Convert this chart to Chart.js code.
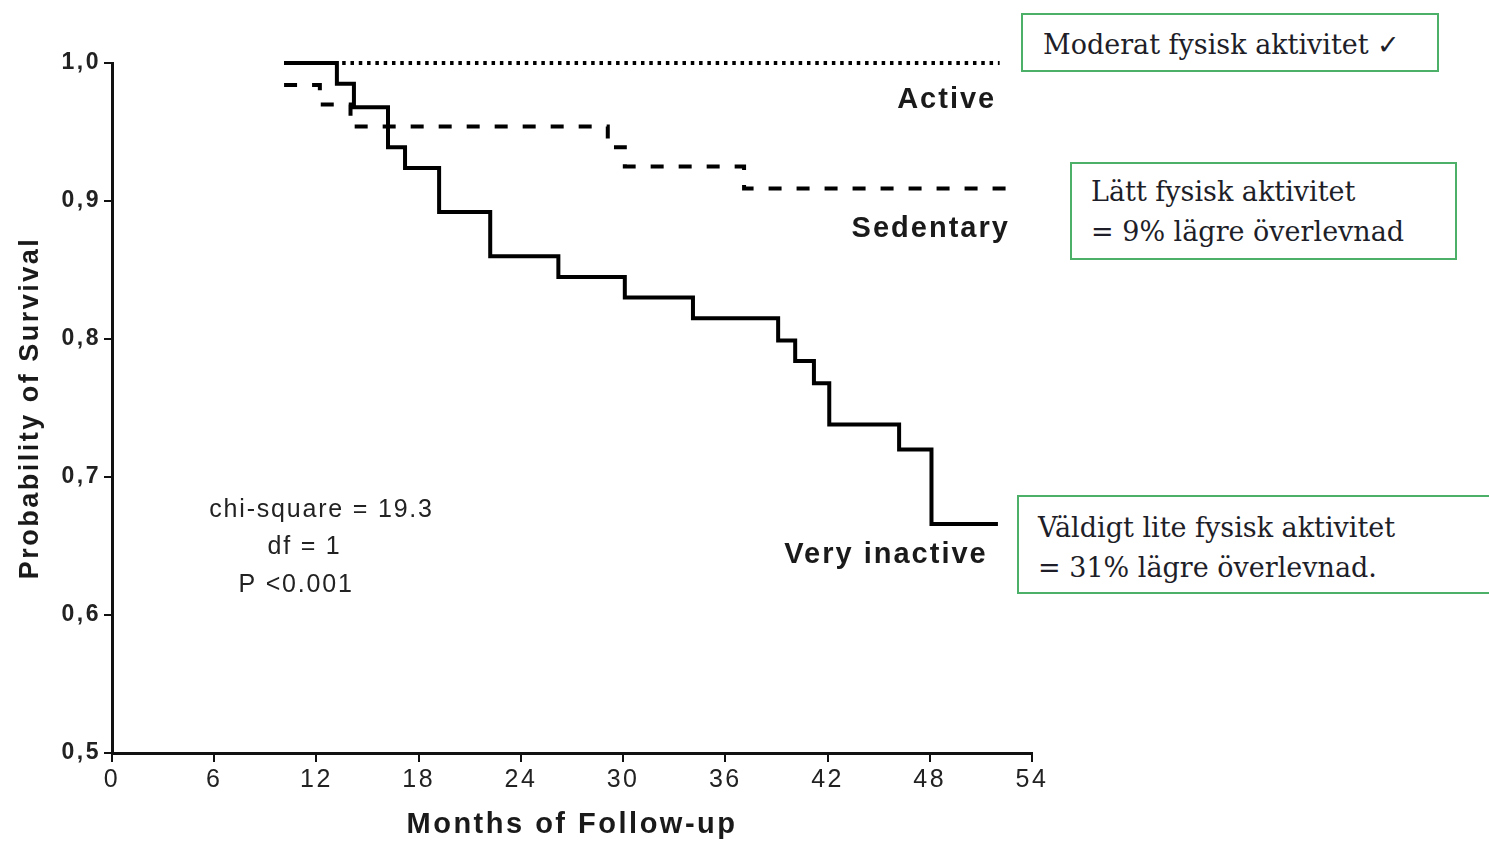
<!DOCTYPE html>
<html>
<head>
<meta charset="utf-8">
<script src="https://cdn.jsdelivr.net/npm/chart.js@4"></script>
<style>
  body { margin: 0; background: #fff; }
  #wrap { position: relative; width: 1489px; height: 842px; overflow: hidden; }
  #survivalChart { position: absolute; left: 0; top: 0; }
  .note {
    position: absolute;
    box-sizing: border-box;
    border: 2px solid #4cb069;
    background: #fff;
    font-family: "DejaVu Serif", serif;
    font-size: 27px;
    line-height: 40px;
    color: #1e1e28;
    white-space: nowrap;
  }
</style>
</head>
<body>
<div id="wrap">
  <canvas id="survivalChart" width="1489" height="842"></canvas>
  <div class="note" style="left:1021px; top:13px; width:418px; height:59px; padding:10px 0 0 20px;">Moderat fysisk aktivitet ✓</div>
  <div class="note" style="left:1070px; top:162px; width:387px; height:98px; padding:8px 0 0 19px;">Lätt fysisk aktivitet<br>= 9% lägre överlevnad</div>
  <div class="note" style="left:1017px; top:495px; width:490px; height:99px; padding:11px 0 0 19px;">Väldigt lite fysisk aktivitet<br>= 31% lägre överlevnad.</div>
</div>
<script>
// Kaplan-Meier steps: month of the drop, new survival level
const activeMonths = [10.1, 52.1];
const activeSurvival = [1.0, 1.0];

const sedentaryMonths = [10.1, 12.2, 14.0, 29.1, 30.1, 37.1, 53.0];
const sedentarySurvival = [0.984, 0.970, 0.954, 0.939, 0.925, 0.909, 0.909];

const inactiveMonths = [10.1, 13.2, 14.2, 16.2, 17.2, 19.2, 22.2, 26.2, 30.1, 34.1, 39.1, 40.1, 41.2, 42.1, 46.2, 48.1, 52.0];
const inactiveSurvival = [1.0, 0.985, 0.968, 0.939, 0.924, 0.892, 0.860, 0.845, 0.830, 0.815, 0.799, 0.784, 0.768, 0.738, 0.720, 0.666, 0.666];

// Axis ticks
const xTicks = [0, 6, 12, 18, 24, 30, 36, 42, 48, 54];
const yTicks = [0.5, 0.6, 0.7, 0.8, 0.9, 1.0];
const yTickLabels = ['0,5', '0,6', '0,7', '0,8', '0,9', '1,0'];

// Curve names placed next to the curves (right edge month, survival)
const curveNames = ['Active', 'Sedentary', 'Very inactive'];
const curveNameMonths = [51.9, 52.7, 51.4];
const curveNameSurvival = [0.973, 0.880, 0.6435];

// Test statistics (centre month, survival)
const statLines = ['chi-square = 19.3', 'df = 1', 'P <0.001'];
const statMonths = [12.3, 11.3, 10.8];
const statSurvival = [0.676, 0.649, 0.622];

const toPoints = (xs, ys) => xs.map((x, i) => ({ x, y: ys[i] }));

// The scanned axes text is spread out a little, so widen letter spacing while drawing
const spacingPlugin = {
    id: 'spacing',
    beforeDraw(chart) {
        chart.ctx.letterSpacing = '2.5px';
    },
    afterDraw(chart) {
        chart.ctx.letterSpacing = '0px';
    }
};

// Draw curve names and statistics through the scales
const annotationPlugin = {
    id: 'annotations',
    afterDatasetsDraw(chart) {
        const { ctx, scales } = chart;
        const xs = scales.x;
        const ys = scales.y;
        ctx.save();
        ctx.fillStyle = '#1a1a1a';
        ctx.textBaseline = 'middle';

        ctx.font = 'bold 29px "Liberation Sans", Arial, sans-serif';
        ctx.letterSpacing = '2px';
        ctx.textAlign = 'right';
        curveNames.forEach((name, i) => {
            ctx.fillText(name, xs.getPixelForValue(curveNameMonths[i]), ys.getPixelForValue(curveNameSurvival[i]));
        });

        ctx.font = '25px "Liberation Sans", Arial, sans-serif';
        ctx.letterSpacing = '1.8px';
        ctx.fillStyle = '#222';
        ctx.textAlign = 'center';
        statLines.forEach((line, i) => {
            ctx.fillText(line, xs.getPixelForValue(statMonths[i]), ys.getPixelForValue(statSurvival[i]));
        });
        ctx.restore();
    }
};

const initChart = () => {
    const ctx = document.querySelector('#survivalChart');

    const config = {
        type: 'line',
        data: {
            datasets: [
                {
                    label: 'Active',
                    data: toPoints(activeMonths, activeSurvival),
                    borderColor: '#000',
                    borderWidth: 4,
                    borderDash: [3.5, 4.8],
                    stepped: 'before',
                    pointRadius: 0,
                    fill: false,
                    clip: false,
                    order: 3
                },
                {
                    label: 'Sedentary',
                    data: toPoints(sedentaryMonths, sedentarySurvival),
                    borderColor: '#000',
                    borderWidth: 4,
                    borderDash: [13, 15],
                    stepped: 'before',
                    pointRadius: 0,
                    fill: false,
                    clip: false,
                    order: 2
                },
                {
                    label: 'Very inactive',
                    data: toPoints(inactiveMonths, inactiveSurvival),
                    borderColor: '#000',
                    borderWidth: 4,
                    stepped: 'before',
                    pointRadius: 0,
                    fill: false,
                    clip: false,
                    order: 1
                }
            ]
        },
        options: {
            responsive: false,
            animation: false,
            layout: {
                padding: { top: 63, right: 457, left: 0, bottom: 0 }
            },
            plugins: {
                legend: { display: false },
                tooltip: { enabled: false }
            },
            scales: {
                x: {
                    type: 'linear',
                    min: 0,
                    max: 54,
                    afterFit: (scale) => { scale.height = 89; },
                    afterBuildTicks: (scale) => { scale.ticks = xTicks.map(v => ({ value: v })); },
                    border: { display: true, color: '#111', width: 3 },
                    grid: { display: true, drawOnChartArea: false, tickLength: 9, color: '#111', lineWidth: 2 },
                    ticks: {
                        padding: 3,
                        color: '#222',
                        font: { family: '"Liberation Sans", Arial, sans-serif', size: 25 },
                        maxRotation: 0
                    },
                    title: {
                        display: true,
                        text: 'Months of Follow-up',
                        color: '#1a1a1a',
                        font: { family: '"Liberation Sans", Arial, sans-serif', size: 29, weight: 'bold' },
                        padding: 0
                    }
                },
                y: {
                    min: 0.5,
                    max: 1.0,
                    afterFit: (scale) => { scale.width = 112; },
                    afterBuildTicks: (scale) => { scale.ticks = yTicks.map(v => ({ value: v })); },
                    border: { display: true, color: '#111', width: 3 },
                    grid: { display: true, drawOnChartArea: false, tickLength: 8, color: '#111', lineWidth: 2 },
                    ticks: {
                        padding: 3,
                        color: '#222',
                        font: { family: '"Liberation Sans", Arial, sans-serif', size: 23, weight: 'bold' },
                        callback: (value) => yTickLabels[yTicks.findIndex(v => Math.abs(v - value) < 1e-6)]
                    },
                    title: {
                        display: true,
                        text: 'Probability of Survival',
                        color: '#1a1a1a',
                        font: { family: '"Liberation Sans", Arial, sans-serif', size: 27, weight: 'bold' },
                        padding: { top: 14, bottom: 0 }
                    }
                }
            }
        },
        plugins: [spacingPlugin, annotationPlugin]
    };

    new Chart(ctx, config);
};

if (document.readyState === 'loading') {
    document.addEventListener('DOMContentLoaded', initChart);
} else {
    initChart();
}
</script>
</body>
</html>
